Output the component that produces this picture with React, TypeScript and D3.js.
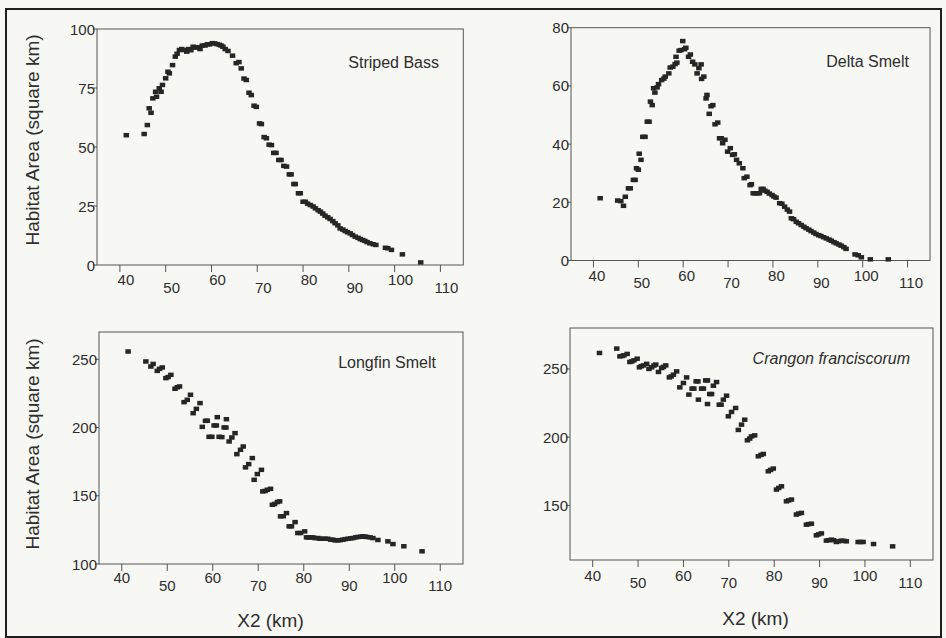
import React from "react";
import * as d3 from "d3";

// ---------- data ----------
const xTicks = [40, 50, 60, 70, 80, 90, 100, 110];

const stripedBassX = [41.4,45.3,46.0,46.4,46.8,47.2,47.8,48.0,48.6,49.0,49.3,50.0,50.5,50.8,51.5,52.1,52.5,53.0,53.5,54.0,54.6,55.0,55.5,56.0,56.4,57.0,57.5,58.0,58.6,59.1,59.6,60.2,60.7,61.2,61.7,62.1,62.5,63.0,63.6,64.6,65.4,66.0,66.5,67.1,67.6,68.2,68.7,69.3,69.8,70.5,70.9,71.5,72.0,72.6,73.1,73.6,74.1,74.7,75.2,75.8,76.4,77.0,77.4,78.0,78.3,79.0,79.4,80.0,80.5,81.0,81.6,82.2,82.7,83.3,83.8,84.3,84.8,85.4,85.9,86.5,87.0,87.6,88.1,88.7,89.2,89.7,90.3,90.8,91.4,92.0,92.5,93.0,93.5,94.0,94.6,95.3,95.9,98.0,98.5,99.3,101.7,105.7];
const stripedBassY = [55,55.5,59.3,66.4,64.5,70.6,73.4,71.3,74.9,73.4,76.3,79.1,81.9,81.2,84.7,88.3,89.5,91.1,91.5,91.1,90.4,91.5,91.0,92.5,92.1,92.3,91.5,93.0,93.0,93.5,93.5,94.0,93.9,93.6,93.3,93.0,92.5,91.5,90.7,88.7,85.5,86,83.3,79,78.4,73,72,67.5,67,60,59.7,54.2,53.7,51,50.8,47.5,47.5,44.5,44.5,42,41.7,38.4,38.4,34.3,34.3,30.4,30.4,26.8,26.8,26,25.4,24.8,24,23.2,22.6,21.8,20.9,20.2,19.5,18.6,17.7,16.8,15.5,15,14.4,13.9,13.4,12.7,12,11.5,11,10.6,10.2,9.7,9.2,8.8,8.5,7.3,7.1,6.4,4.5,1.1];

const deltaSmeltX = [41.5,45.4,46.1,46.7,47.1,47.8,48.2,48.9,49.3,49.6,50.0,50.2,50.6,51.0,51.5,52.0,52.4,52.7,53.1,53.4,53.7,54.2,54.5,55.2,55.7,56.0,56.8,57.1,57.7,58.2,58.6,58.4,59.1,59.5,59.9,60.3,60.6,61.2,61.6,62.1,62.6,63.1,63.5,64.0,64.1,64.6,65.1,65.3,65.8,66.2,66.6,67.1,67.7,68.1,68.5,68.8,69.3,69.9,70.5,71.0,71.4,71.9,72.5,73.3,73.6,74.2,74.9,75.2,75.6,76.0,76.5,77.0,77.4,77.8,78.2,78.7,79.2,79.8,80.2,80.7,81.5,82.0,82.6,83.2,83.7,84.1,84.6,85.2,85.7,86.3,86.9,87.4,88.0,88.5,89.1,89.6,90.2,90.7,91.3,91.9,92.5,93.0,93.6,94.1,94.7,95.2,95.8,96.3,98.3,99.0,99.7,101.7,105.7];
const deltaSmeltY = [21.4,20.6,20.4,18.8,21.9,24.8,24.8,27.7,27.7,31.7,31.2,36.7,34.6,42.5,42.5,47.7,47.7,54.6,53.4,59.2,57.7,59.5,60.6,62.0,62.5,63.2,64.3,66.3,66.6,67.5,68.0,70.0,72.1,72.3,75.4,72.6,73.1,70.0,70.8,68.3,67.4,64.3,66.1,67.4,62.4,63.2,55.7,56.9,50.4,53,53.4,46.8,47.4,42.0,42,40.3,41.5,37.4,38.6,36.3,36.5,34.6,33.4,31.7,28.3,28.8,25.9,26.2,23.1,23.1,23.1,23.1,24.6,24.6,24,23.6,23,22.5,22,21.6,19.7,19.5,18.5,17.5,16.8,14.5,14.2,13.3,12.8,12.2,11.6,11.1,10.6,10.1,9.6,9.1,8.7,8.4,8.0,7.6,7.2,6.8,6.3,5.9,5.5,5.1,4.6,4.0,2.1,1.8,1.1,0.4,0.4];

const longfinSmeltX = [41.4,45.3,46.4,46.9,47.8,48.3,48.9,49.7,50.2,50.8,51.7,52.2,52.7,53.7,54.4,55.1,55.7,56.4,57.2,57.7,58.4,58.8,59.2,59.8,60.3,60.8,61.0,61.4,62.0,62.5,62.9,63.0,63.6,64.2,64.9,65.3,66.1,66.7,67.2,67.9,68.7,69.1,69.8,70.7,71.0,71.5,72.0,72.7,73.1,73.6,74.2,74.7,74.9,75.5,76.2,76.8,77.3,78.1,78.7,79.3,80.2,80.6,81.1,81.5,82.0,82.5,83.1,83.6,84.2,84.7,85.3,85.9,86.4,86.9,87.5,88.0,88.6,89.1,89.7,90.3,90.8,91.4,91.9,92.5,93.0,93.5,93.9,94.6,95.2,96.3,98.5,99.6,102.0,106.0];
const longfinSmeltY = [255.7,248.4,244.7,246.6,241.5,243,244.0,236.2,237,238.6,228.4,229.5,230.1,218.6,220.3,224,210.5,213.7,217.9,200.5,204.9,205,193.2,193.2,201.5,201.5,207.6,193.2,193,200.1,200,206.1,189.8,192.7,195.9,180.5,183.7,186.1,170.8,173.2,177.6,161.7,165.9,169,153.2,153.5,154.4,155.1,143.4,144,145.4,145.9,134.9,135,137.3,127.6,127.6,130.7,122.7,122.7,123.9,119.5,119.5,119.5,119.5,119,119,118.5,118.5,118.5,118.5,117.8,117.8,117.3,117.3,117.5,117.8,118.2,118.5,118.8,119,119.5,119.8,120,120.3,120,119.8,119.5,119,117.6,116.6,114.6,113,109.3];

const crangonX = [41.5,45.3,46.0,46.5,46.9,47.6,48.2,48.6,49.1,49.8,50.3,50.7,51.2,51.9,52.4,53.0,53.5,53.9,54.5,55.2,55.6,56.1,56.9,57.3,57.8,58.5,59.2,60.0,60.7,61.2,61.9,62.3,62.8,63.2,63.3,64.0,64.4,64.9,65.3,65.3,65.8,66.2,66.6,67.3,67.9,68.3,68.8,69.5,69.9,70.6,71.5,72.1,72.8,73.5,74.1,74.6,75.0,75.7,76.5,77.1,77.6,78.7,79.2,79.8,80.5,81.0,81.6,82.7,83.2,83.8,84.9,85.4,86.0,87.1,87.6,88.2,89.3,89.8,90.4,91.5,92.0,92.6,93.1,93.7,94.2,94.8,95.4,95.9,98.5,99.0,99.6,101.9,106.1];
const crangonY = [261.7,264.9,259.2,259.5,260,261,255.1,255.5,256.3,257.5,251.2,252,252.6,253.7,250,251.2,252.5,253.2,247.8,250.7,251.5,252.6,243.8,244.5,245.8,248.2,236.5,239.7,243.8,231.2,235.6,235.6,240.9,240.9,227.5,235.6,235.6,241.6,241.6,224.3,231.6,231.6,237.7,240.4,223.8,223.8,227.5,230.4,215.3,218.5,221.4,205.3,209.2,212.8,197.7,199,200.6,201.3,186,187,187.7,175,176,177,161.6,162.8,164,153,153.7,154.3,143.3,144,144.5,135.9,136.3,136.6,128.1,128.8,129.5,124.2,124.5,124.9,124.5,123.2,123.7,124.2,124,123.7,123.2,123.2,123.2,121.7,120];

// ---------- panel layout ----------
type Panel = {
  name: string; italic?: boolean;
  xs: number[]; ys: number[];
  yDomain: [number, number]; yTicks: number[];
  x0: number; x1: number; y0: number; y1: number;
  labelDx: number; lblA: number; lblB: number;
  nameX: number; nameY: number;
  xTitle?: { x: number; y: number };
  yTitle?: { x: number; y: number };
};

const panels: Panel[] = [
  { name: "Striped Bass", xs: stripedBassX, ys: stripedBassY, yDomain: [0, 100], yTicks: [0, 25, 50, 75, 100],
    x0: 97, x1: 463.3, y0: 29, y1: 265, labelDx: 6, lblA: 20, lblB: 28, nameX: 439, nameY: 68,
    yTitle: { x: 39, y: 140 } },
  { name: "Delta Smelt", xs: deltaSmeltX, ys: deltaSmeltY, yDomain: [0, 80], yTicks: [0, 20, 40, 60, 80],
    x0: 571, x1: 930, y0: 27.7, y1: 260.5, labelDx: 3.5, lblA: 20.5, lblB: 27.5, nameX: 909, nameY: 67 },
  { name: "Longfin Smelt", xs: longfinSmeltX, ys: longfinSmeltY, yDomain: [100, 270], yTicks: [100, 150, 200, 250],
    x0: 99, x1: 463, y0: 332, y1: 564, labelDx: 0, lblA: 18.5, lblB: 27, nameX: 436, nameY: 368,
    xTitle: { x: 270.5, y: 627 }, yTitle: { x: 39, y: 444 } },
  { name: "Crangon franciscorum", italic: true, xs: crangonX, ys: crangonY, yDomain: [110, 280], yTicks: [150, 200, 250],
    x0: 570, x1: 933, y0: 328, y1: 560, labelDx: 0, lblA: 21, lblB: 28, nameX: 910, nameY: 364,
    xTitle: { x: 755.5, y: 625 } },
];

const FONT = "'Liberation Sans', Arial, sans-serif";
const INK = "#262626";
const TEXT = "#2e2e2e";
const AXIS = "#555";

function PanelView({ p }: { p: Panel }) {
  const x = d3.scaleLinear().domain([35, 115]).range([p.x0, p.x1]);
  const y = d3.scaleLinear().domain(p.yDomain).range([p.y1, p.y0]);
  const mw = 5.5, mh = 4.5;
  return (
    <g>
      <rect x={p.x0} y={p.y0} width={p.x1 - p.x0} height={p.y1 - p.y0} fill="none" stroke={AXIS} strokeWidth={1} />
      {xTicks.map((t, i) => (
        <g key={"xt" + t}>
          <line x1={x(t)} x2={x(t)} y1={p.y1} y2={p.y1 + 7} stroke={AXIS} strokeWidth={1} />
          <text x={x(t) + p.labelDx} y={p.y1 + (i % 2 === 0 ? p.lblA : p.lblB)} textAnchor="middle"
            fontSize={15} fontFamily={FONT} fill={TEXT}>{t}</text>
        </g>
      ))}
      {p.yTicks.map((t) => (
        <g key={"yt" + t}>
          <line x1={p.x0 - 4} x2={p.x0} y1={y(t)} y2={y(t)} stroke={AXIS} strokeWidth={1} />
          <text x={p.x0 - 2} y={y(t) + 5.5} textAnchor="end" fontSize={15} fontFamily={FONT} fill={TEXT}>{t}</text>
        </g>
      ))}
      {p.xs.map((xv, i) => (
        <rect key={"m" + i} x={x(xv) - mw / 2} y={y(p.ys[i]) - mh / 2} width={mw} height={mh} fill={INK} />
      ))}
      <text x={p.nameX} y={p.nameY} textAnchor="end" fontSize={16} fontFamily={FONT} fill={TEXT}
        fontStyle={p.italic ? "italic" : "normal"}>{p.name}</text>
      {p.xTitle && (
        <text x={p.xTitle.x} y={p.xTitle.y} textAnchor="middle" fontSize={19} fontFamily={FONT} fill={TEXT}>X2 (km)</text>
      )}
      {p.yTitle && (
        <text transform={`translate(${p.yTitle.x},${p.yTitle.y}) rotate(-90)`} textAnchor="middle" fontSize={19}
          fontFamily={FONT} fill={TEXT}>Habitat Area (square km)</text>
      )}
    </g>
  );
}

export default function App() {
  return (
    <div style={{ position: "fixed", left: 0, top: 0 }}>
      <svg width={946} height={638} viewBox="0 0 946 638" style={{ display: "block" }}>
        <rect x={0} y={0} width={946} height={638} fill="#f7f7f3" />
        <rect x={6} y={9} width={935} height={628} fill="none" stroke="#1e1e1e" strokeWidth={2} />
        {panels.map((p) => <PanelView key={p.name} p={p} />)}
      </svg>
    </div>
  );
}
